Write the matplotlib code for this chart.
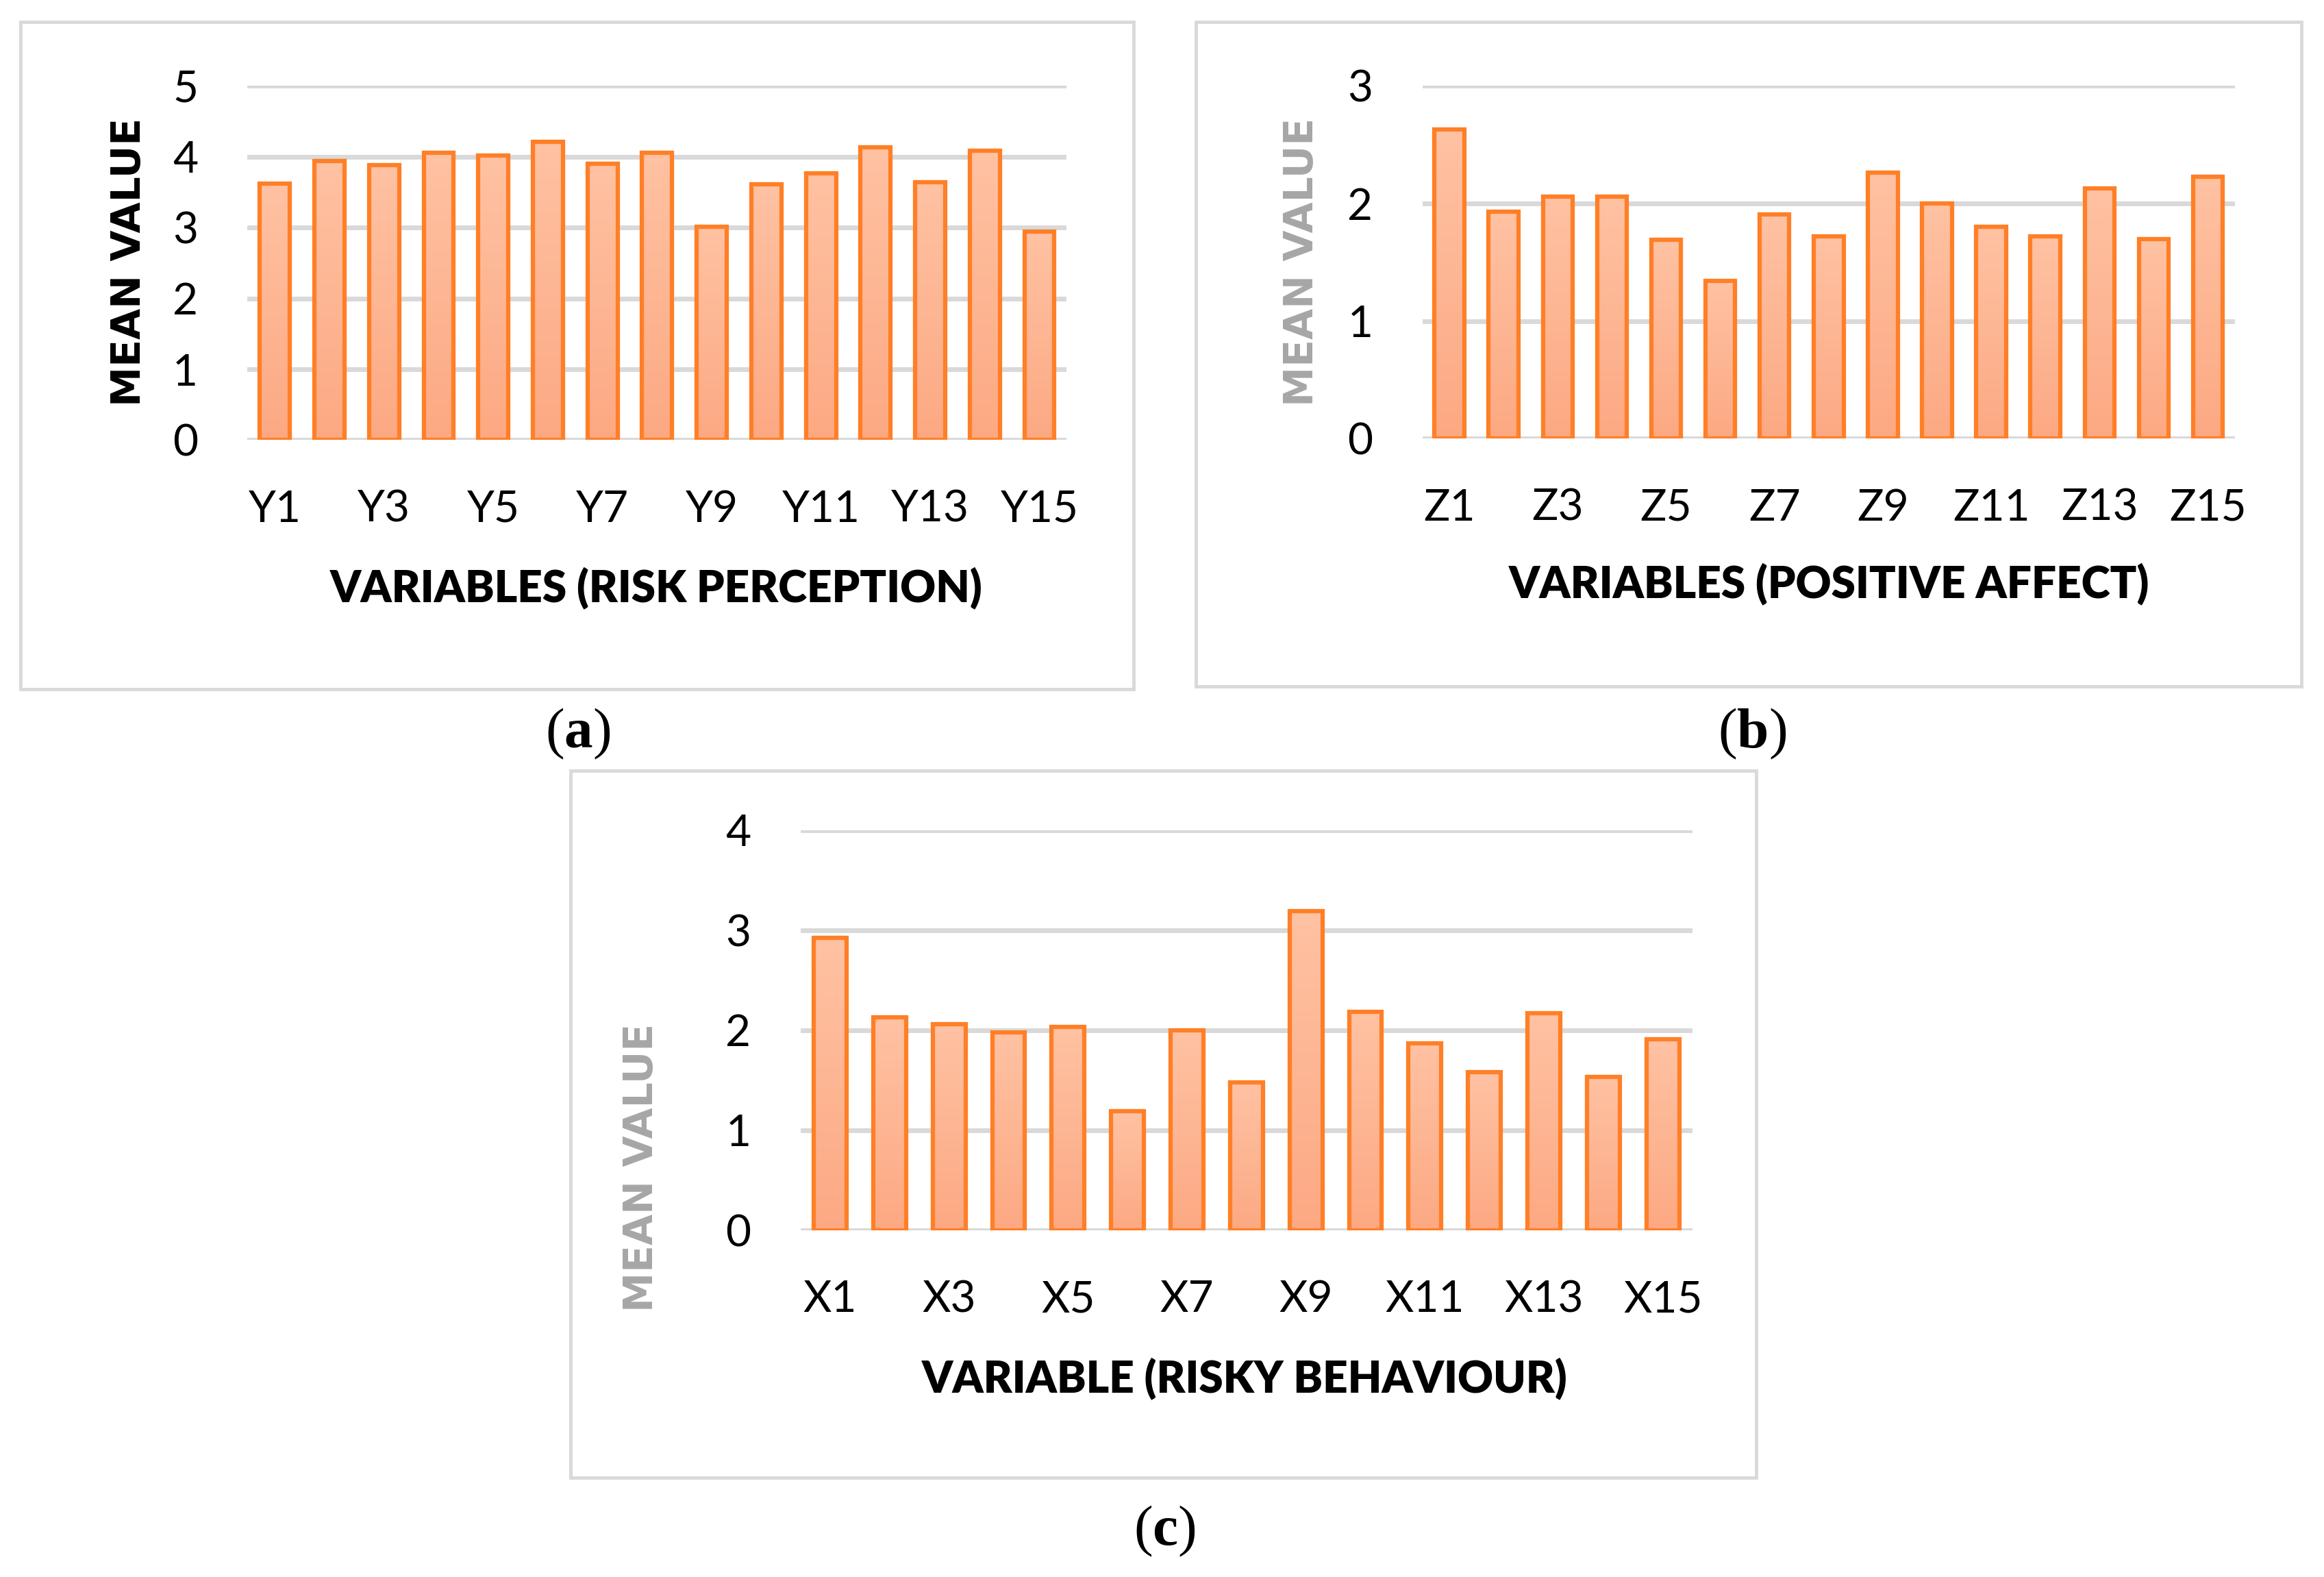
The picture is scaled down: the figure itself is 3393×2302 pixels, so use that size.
import numpy as np
import matplotlib.pyplot as plt
from matplotlib.patches import Rectangle
from matplotlib.colors import LinearSegmentedColormap

# mean values
risk_labels = ["Y%d" % i for i in range(1, 16)]
risk_values = [3.62, 3.94, 3.88, 4.06, 4.02, 4.21, 3.90, 4.06, 3.01, 3.61, 3.77, 4.13, 3.64, 4.09, 2.94]

affect_labels = ["Z%d" % i for i in range(1, 16)]
affect_values = [2.63, 1.93, 2.06, 2.06, 1.69, 1.34, 1.91, 1.72, 2.26, 2.00, 1.80, 1.72, 2.13, 1.70, 2.23]

behav_labels = ["X%d" % i for i in range(1, 16)]
behav_values = [2.92, 2.13, 2.06, 1.98, 2.03, 1.19, 2.00, 1.48, 3.19, 2.18, 1.87, 1.58, 2.17, 1.53, 1.91]

orange = "#FF7F27"
grid_col = "#D9D9D9"
gray_txt = "#A6A6A6"
tick_font = "Lato"

plt.rcParams["mathtext.fontset"] = "custom"
plt.rcParams["mathtext.rm"] = "Liberation Serif"
plt.rcParams["mathtext.bf"] = "Liberation Serif:bold"

fig = plt.figure(figsize=(33.93, 23.02), dpi=100)

# gradient for the bar fill (light at top, a bit darker at bottom)
grad = np.linspace(0, 1, 256).reshape(-1, 1)
fill_cmap = LinearSegmentedColormap.from_list("fill", ["#FFC2A3", "#FCA983"])


def panel(rect, labels, values, ymax, box, ylab_pos, ylab_col, xlab, xlab_pos, cap, cap_pos):
    # light gray frame around the chart
    fig.patches.append(Rectangle((box[0], box[1]), box[2] - box[0], box[3] - box[1],
                                 transform=fig.transFigure, fill=False,
                                 edgecolor=grid_col, linewidth=3.5, zorder=0))
    ax = fig.add_axes(rect)
    x = np.arange(len(values))
    bars = ax.bar(x, values, width=0.55, facecolor="none", edgecolor=orange,
                  linewidth=4.5, zorder=3)
    for b in bars:
        im = ax.imshow(grad, extent=[b.get_x(), b.get_x() + b.get_width(), 0, b.get_height()],
                       cmap=fill_cmap, aspect="auto", origin="upper", zorder=2)
        im.set_clip_path(b)
    ax.set_xlim(-0.5, len(values) - 0.5)
    ax.set_ylim(0, ymax)
    ax.set_yticks(range(0, ymax + 1))
    ax.set_xticks(x[::2])
    ax.set_xticklabels(labels[::2])
    ax.yaxis.grid(True, color=grid_col, linewidth=5)
    ax.set_axisbelow(True)
    for s in ax.spines.values():
        s.set_visible(False)
    ax.tick_params(length=0, labelsize=46)
    ax.tick_params(axis="y", pad=52)
    ax.tick_params(axis="x", pad=52)
    for t in ax.get_xticklabels() + ax.get_yticklabels():
        t.set_fontfamily(tick_font)
    fig.text(ylab_pos[0], ylab_pos[1], "MEAN VALUE", rotation=90, ha="center", va="center",
             fontsize=42, fontweight="bold", color=ylab_col, family="DejaVu Sans")
    fig.text(xlab_pos[0], xlab_pos[1], xlab, ha="center", va="center",
             fontsize=46, fontweight="heavy", family=tick_font)
    fig.text(cap_pos[0], cap_pos[1], r"($\mathbf{%s}$)" % cap, ha="center", va="center",
             fontsize=60, family="Liberation Serif")
    return ax


panel([0.1065, 0.7209, 0.3525, 0.2246], risk_labels, risk_values, 5,
      (0.0089, 0.563, 0.4879, 0.9859), (0.0555, 0.834), "black",
      "VARIABLES (RISK PERCEPTION)", (0.2825, 0.627), "a", (0.2487, 0.5348))

panel([0.612, 0.7218, 0.3497, 0.2237], affect_labels, affect_values, 3,
      (0.5147, 0.5648, 0.9904, 0.9859), (0.56, 0.834), gray_txt,
      "VARIABLES (POSITIVE AFFECT)", (0.787, 0.6297), "b", (0.7538, 0.5348))

panel([0.3444, 0.2199, 0.3839, 0.2538], behav_labels, behav_values, 4,
      (0.2455, 0.063, 0.7557, 0.5113), (0.276, 0.2594), gray_txt,
      "VARIABLE (RISKY BEHAVIOUR)", (0.5357, 0.126), "c", (0.5013, 0.0291))

fig.savefig("out.png", dpi=100, facecolor="white")
